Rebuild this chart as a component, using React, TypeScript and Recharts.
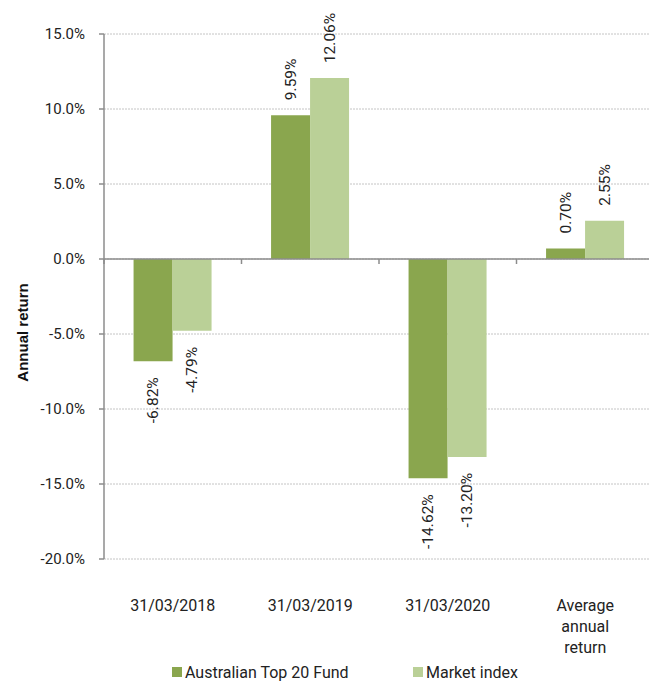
import React from "react";
import {
  BarChart,
  Bar,
  XAxis,
  YAxis,
  CartesianGrid,
  ReferenceLine,
  LabelList,
  Legend,
} from "recharts";

const categories = ["31/03/2018", "31/03/2019", "31/03/2020", "Average annual return"];
const fundReturns = [-6.82, 9.59, -14.62, 0.7];
const indexReturns = [-4.79, 12.06, -13.2, 2.55];
const yTicks = [-20, -15, -10, -5, 0, 5, 10, 15];

const FUND = "Australian Top 20 Fund";
const INDEX = "Market index";
const DARK = "#8aa64e";
const LIGHT = "#bad097";
const AXIS = "#8c8c8c";
const FONT = "Roboto, 'Noto Sans', sans-serif";

const data = categories.map((name, i) => ({
  name,
  fund: fundReturns[i],
  index: indexReturns[i],
}));

function CategoryTick(props: any) {
  const { x, y, payload } = props;
  const words: string[] = payload.value.includes(" ") ? payload.value.split(" ") : [payload.value];
  return (
    <g>
      {words.map((w, i) => (
        <text
          key={i}
          x={x}
          y={y + 44 + i * 21}
          textAnchor="middle"
          fontSize={16}
          fill="#222"
          fontFamily={FONT}
        >
          {w}
        </text>
      ))}
    </g>
  );
}

function ValueLabel(props: any) {
  const { x, y, width, height, value } = props;
  const cx = x + width / 2;
  const top = Math.min(y, y + height);
  const bottom = Math.max(y, y + height);
  const pos = value >= 0;
  const ly = pos ? top - 15 : bottom + 16;
  return (
    <text
      x={cx}
      y={ly}
      transform={`rotate(-90, ${cx}, ${ly})`}
      textAnchor={pos ? "start" : "end"}
      dominantBaseline="central"
      fontSize={15.5}
      fill="#222"
      fontFamily={FONT}
    >
      {value.toFixed(2) + "%"}
    </text>
  );
}

function ZeroLine(props: any) {
  const { x1, y1, x2, y2 } = props;
  const marks = [0, 1, 2, 3, 4].map((i) => x1 + ((x2 - x1) * i) / 4);
  return (
    <g>
      <line x1={x1} y1={y1} x2={x2} y2={y2} stroke={AXIS} strokeWidth={1.5} />
      {marks.map((mx, i) => (
        <line key={i} x1={mx} y1={y1} x2={mx} y2={y1 + 5} stroke={AXIS} strokeWidth={1.5} />
      ))}
    </g>
  );
}

function YLabel(props: any) {
  const { viewBox } = props;
  const cx = 22;
  const cy = viewBox.y + viewBox.height / 2 + 36;
  return (
    <text
      x={cx}
      y={cy}
      transform={`rotate(-90, ${cx}, ${cy})`}
      textAnchor="middle"
      dominantBaseline="central"
      fontSize={15}
      fontWeight="bold"
      fill="#111"
      fontFamily="'Liberation Sans', Arial, sans-serif"
    >
      Annual return
    </text>
  );
}

function LegendContent() {
  const items = [
    { label: FUND, color: DARK },
    { label: INDEX, color: LIGHT },
  ];
  return (
    <div style={{ display: "flex", paddingLeft: 172, paddingTop: 2, height: 22, alignItems: "center" }}>
      {items.map((it) => (
        <div key={it.label} style={{ display: "flex", alignItems: "center", width: 263 }}>
          <span style={{ display: "inline-block", width: 10, height: 10, background: it.color, marginRight: 3 }} />
          <span style={{ fontSize: 16, color: "#222", fontFamily: FONT }}>{it.label}</span>
        </div>
      ))}
    </div>
  );
}

export default function App() {
  return (
    <div style={{ margin: -8, width: 657, height: 689, background: "#fff", overflow: "hidden" }}>
      <BarChart
        width={657}
        height={689}
        data={data}
        margin={{ top: 34, right: 3, left: 0, bottom: 0 }}
        barCategoryGap="21.5%"
        barGap={0}
      >
        <CartesianGrid horizontal vertical={false} stroke="#c4c4c4" strokeDasharray="2 1" />
        <XAxis
          dataKey="name"
          axisLine={false}
          tickLine={false}
          height={100}
          interval={0}
          tick={<CategoryTick />}
        />
        <YAxis
          width={104}
          domain={[-20, 15]}
          ticks={yTicks}
          interval={0}
          tickFormatter={(v: number) => v.toFixed(1) + "%"}
          axisLine={{ stroke: AXIS, strokeWidth: 1.5 }}
          tickLine={{ stroke: AXIS, strokeWidth: 1.5 }}
          tickSize={5}
          tickMargin={14}
          tick={{ fontSize: 15, fill: "#222", fontFamily: FONT }}
          label={<YLabel />}
        />
        <ReferenceLine y={0} shape={<ZeroLine />} />
        <Bar dataKey="fund" name={FUND} fill={DARK} isAnimationActive={false}>
          <LabelList dataKey="fund" content={<ValueLabel />} />
        </Bar>
        <Bar dataKey="index" name={INDEX} fill={LIGHT} isAnimationActive={false}>
          <LabelList dataKey="index" content={<ValueLabel />} />
        </Bar>
        <Legend verticalAlign="bottom" height={30} content={<LegendContent />} />
      </BarChart>
    </div>
  );
}
